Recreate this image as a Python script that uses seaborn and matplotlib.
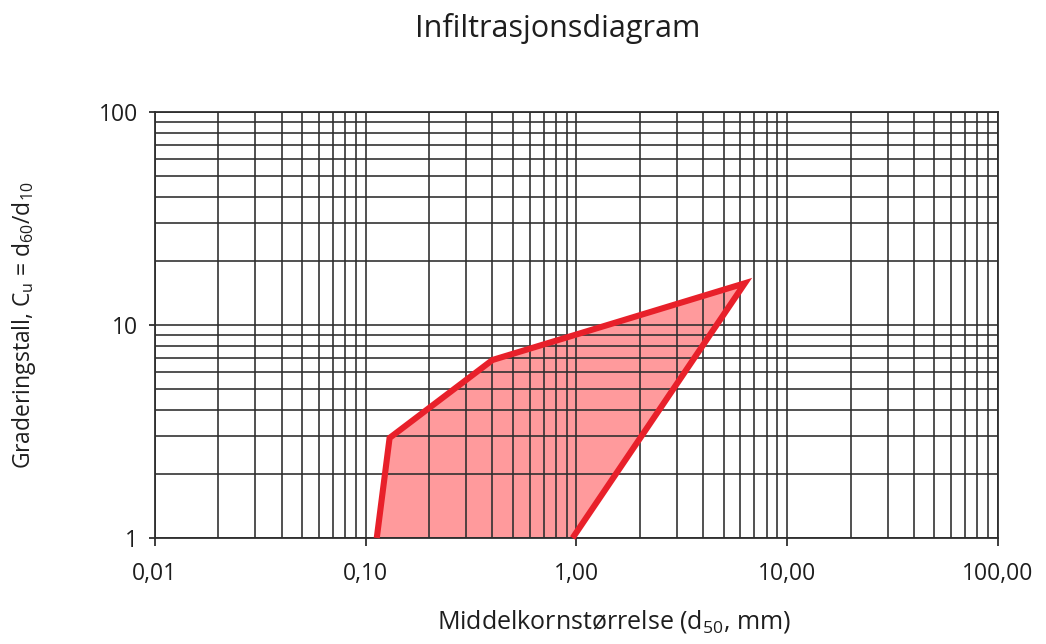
import matplotlib
matplotlib.use("Agg")
import matplotlib.pyplot as plt
import matplotlib.ticker as mticker
import seaborn as sns
import pandas as pd
import numpy as np

sns.set_theme(style="white")
plt.rcParams["font.family"] = ["Open Sans", "DejaVu Sans"]
plt.rcParams["mathtext.fontset"] = "custom"
plt.rcParams["mathtext.rm"] = "Open Sans"
plt.rcParams["mathtext.it"] = "Open Sans"

# Infiltration zone outline (d50 in mm, Cu)
d50 = [0.113, 0.13, 0.40, 6.3, 0.96]
cu = [1.0, 2.95, 6.85, 15.7, 1.0]

x_ticks = [0.01, 0.1, 1, 10, 100]
x_labels = ["0,01", "0,10", "1,00", "10,00", "100,00"]
y_ticks = [1, 10, 100]
y_labels = ["1", "10", "100"]

EDGE = "#E8202A"
FILL = "#FF9A9C"
GRID = "#2e2e2e"
TEXT = "#1e1e1e"

outline = pd.DataFrame({"d50": d50, "cu": cu})

fig = plt.figure(figsize=(10.46, 6.44), dpi=100)
ax = fig.add_axes([0.148, 0.1646, 0.806, 0.6615])
ax.set_xscale("log")
ax.set_yscale("log")

# grid at every 1..9 step of each decade
ax.xaxis.set_major_locator(mticker.FixedLocator(x_ticks))
ax.xaxis.set_minor_locator(mticker.LogLocator(base=10, subs=np.arange(2, 10)))
ax.yaxis.set_major_locator(mticker.FixedLocator(y_ticks))
ax.yaxis.set_minor_locator(mticker.LogLocator(base=10, subs=np.arange(2, 10)))
ax.xaxis.set_major_formatter(mticker.FixedFormatter(x_labels))
ax.yaxis.set_major_formatter(mticker.FixedFormatter(y_labels))
ax.xaxis.set_minor_formatter(mticker.NullFormatter())
ax.yaxis.set_minor_formatter(mticker.NullFormatter())
ax.grid(True, which="both", color=GRID, linewidth=1.3, alpha=0.9)
ax.set_axisbelow(False)
ax.tick_params(axis="x", which="major", direction="out", length=6, width=1.3, color=GRID,
               labelsize=16.5, pad=11, labelcolor=TEXT, bottom=True)
ax.tick_params(axis="y", which="major", direction="out", length=4, width=1.3, color=GRID,
               labelsize=16.5, pad=8, labelcolor=TEXT, left=True)
ax.tick_params(which="minor", length=0)
for s in ax.spines.values():
    s.set_color(GRID)
    s.set_linewidth(1.3)

ax.fill(d50, cu, facecolor=FILL, edgecolor="none", zorder=1)
sns.lineplot(data=outline, x="d50", y="cu", sort=False, estimator=None, ax=ax,
             color=EDGE, linewidth=4.4, zorder=5, clip_on=False,
             solid_joinstyle="miter", solid_capstyle="butt")
ax.set_xlim(0.01, 100)
ax.set_ylim(1, 100)

ax.set_xlabel("Middelkornstørrelse (d$_{50}$, mm)", fontsize=18, color=TEXT)
ax.xaxis.set_label_coords(0.545, -0.165)
ax.set_ylabel("Graderingstall, C$_{u}$ = d$_{60}$/d$_{10}$", fontsize=16.5, color=TEXT, labelpad=44)
fig.text(0.533, 0.956, "Infiltrasjonsdiagram", ha="center", va="center", fontsize=22, color=TEXT)

fig.savefig("out.png", dpi=100)
